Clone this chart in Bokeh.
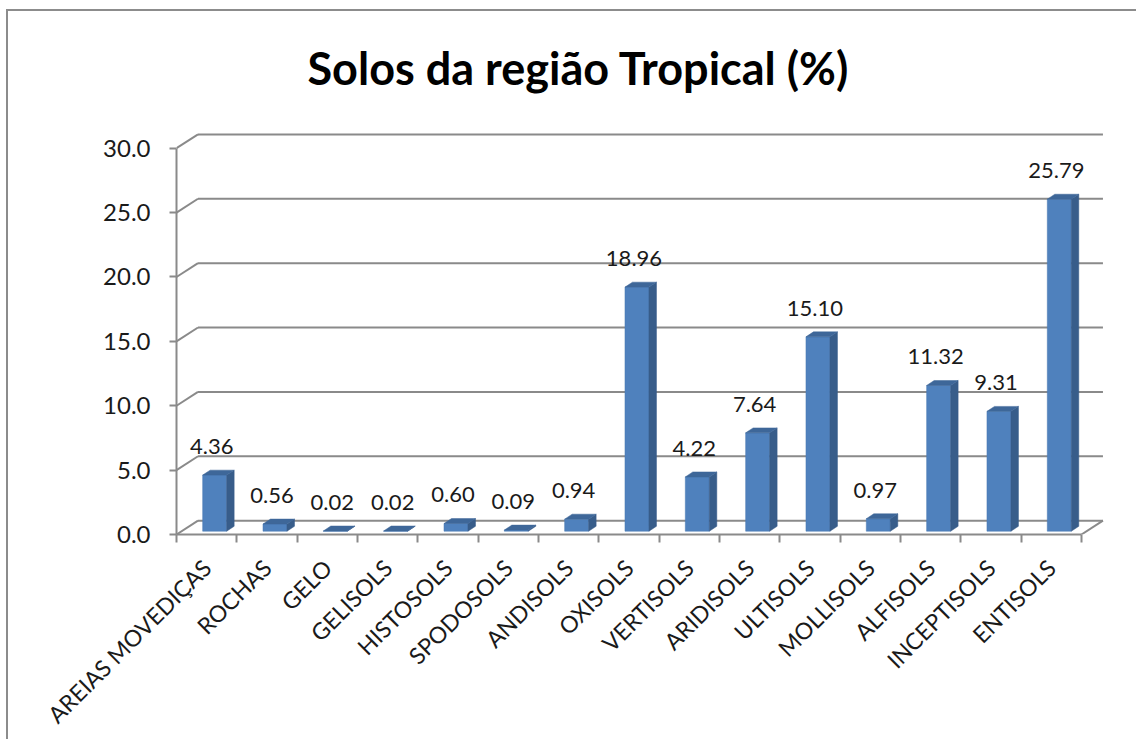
import math
from bokeh.plotting import figure
from bokeh.models import Range1d, FixedTicker, ColumnDataSource
from bokeh.embed import file_html
from bokeh.resources import INLINE
from bokeh.core.properties import value

# ---------------- data ----------------
categories = ["AREIAS MOVEDIÇAS", "ROCHAS", "GELO", "GELISOLS", "HISTOSOLS",
              "SPODOSOLS", "ANDISOLS", "OXISOLS", "VERTISOLS", "ARIDISOLS",
              "ULTISOLS", "MOLLISOLS", "ALFISOLS", "INCEPTISOLS", "ENTISOLS"]
values = [4.36, 0.56, 0.02, 0.02, 0.60, 0.09, 0.94, 18.96, 4.22, 7.64,
          15.10, 0.97, 11.32, 9.31, 25.79]
y_ticks = [0, 5, 10, 15, 20, 25, 30]
title_text = "Solos da região Tropical (%)"

# ---------------- layout (pixels) ----------------
OX, OY = 6, 9                      # figure offset on the page
W, H = 1130, 730
PX_X = 60.33      # pixels per category
PX_Y = 13.0       # pixels per unit
FL, FR, FT, FB = 174 - OX, 1110 - OX, 118 - OY, 535 - OY
n = len(categories)

x_end = (FR - FL) / PX_X
y_end = (FB - FT) / PX_Y

# 3D offsets (data units)
dxb, dyb = 21.5 / PX_X, 14.0 / PX_Y        # back wall
bdx, bdy = 8.0 / PX_X, 3.3 / PX_Y          # bar placement (middle depth)
bw = 24.0 / PX_X                           # bar width
ddx, ddy = 7.5 / PX_X, 5.0 / PX_Y          # bar depth

GRID = "#8a8a8a"
FONT = "Lato"

p = figure(width=W, height=H, output_backend="svg", toolbar_location=None,
           x_range=Range1d(0, x_end), y_range=Range1d(0, y_end),
           min_border_left=FL, min_border_right=W - FR,
           min_border_top=FT, min_border_bottom=H - FB,
           background_fill_color="white", border_fill_color="white",
           title=title_text,
           styles={"margin-left": f"{OX}px", "margin-top": f"{OY}px",
                   "border-left": "2px solid #8c8c8c", "border-top": "2px solid #8c8c8c"})
p.outline_line_color = None
p.grid.visible = False

p.title.align = "left"
p.title.offset = 305 - 174
p.title.text_font = FONT
p.title.text_font_style = "bold"
p.title.text_font_size = "45px"
p.title.text_color = "black"
p.title.standoff = 54

# ---------------- walls / gridlines ----------------
gx0, gy0, gx1, gy1 = [], [], [], []
for t in y_ticks:
    gx0.append(dxb); gy0.append(t + dyb); gx1.append(n + dxb); gy1.append(t + dyb)
    gx0.append(0); gy0.append(t); gx1.append(dxb); gy1.append(t + dyb)
gx0.append(n); gy0.append(0); gx1.append(n + dxb); gy1.append(dyb)
p.segment(gx0, gy0, gx1, gy1, line_color=GRID, line_width=2)

# ---------------- bars ----------------
xl = [i + 0.5 + bdx - bw / 2 for i in range(n)]
xr = [i + 0.5 + bdx + bw / 2 for i in range(n)]
y0 = [bdy] * n
y1 = [v + bdy for v in values]

p.quad(left=xl, right=xr, bottom=y0, top=y1, fill_color="#4F81BD",
       line_color="#4A7AB3", line_width=0.5)

side_xs = [[r, r + ddx, r + ddx, r] for r in xr]
side_ys = [[b, b + ddy, t + ddy, t] for b, t in zip(y0, y1)]
p.patches(side_xs, side_ys, fill_color="#385D8A", line_color="#385D8A", line_width=0.5)

top_xs = [[l, r, r + ddx, l + ddx] for l, r in zip(xl, xr)]
top_ys = [[t, t, t + ddy, t + ddy] for t in y1]
p.patches(top_xs, top_ys, fill_color="#3E6799", line_color="#3E6799", line_width=0.5)

# ---------------- data labels ----------------
lbl_src = ColumnDataSource(dict(
    x=[i + 0.5 + 5.0 / PX_X for i in range(n)],
    y=[v + bdy + 29.0 / PX_Y for v in values],
    t=[f"{v:.2f}" for v in values]))
p.text(x="x", y="y", text="t", source=lbl_src, text_font=value(FONT),
       text_font_size="22px", text_align="center", text_baseline="alphabetic",
       text_color="#1a1a1a")

# ---------------- axes ----------------
ya = p.yaxis[0]
ya.ticker = FixedTicker(ticks=y_ticks, minor_ticks=[])
ya.major_label_overrides = {t: f"{t:.1f}" for t in y_ticks}
ya.bounds = (0, 30)
ya.axis_line_color = GRID
ya.axis_line_width = 2
ya.major_tick_line_color = GRID
ya.major_tick_line_width = 2
ya.major_tick_in = 0
ya.major_tick_out = 7
ya.minor_tick_line_color = None
ya.major_label_standoff = 19
ya.major_label_text_font = FONT
ya.major_label_text_font_size = "24px"
ya.major_label_text_color = "#1a1a1a"

xa = p.xaxis[0]
xa.ticker = FixedTicker(ticks=[i + 0.5 for i in range(n)],
                        minor_ticks=[float(i) for i in range(n + 1)])
xa.major_label_overrides = {i + 0.5: c for i, c in enumerate(categories)}
xa.bounds = (0, n)
xa.axis_line_color = GRID
xa.axis_line_width = 2
xa.major_tick_line_color = None
xa.major_tick_in = 0
xa.major_tick_out = 0
xa.minor_tick_line_color = GRID
xa.minor_tick_line_width = 2
xa.minor_tick_in = 0
xa.minor_tick_out = 8
xa.major_label_orientation = math.pi / 4
xa.major_label_standoff = 21
xa.major_label_text_font = FONT
xa.major_label_text_font_size = "23px"
xa.major_label_text_color = "#1a1a1a"

open("out.html", "w").write(file_html(p, INLINE))
